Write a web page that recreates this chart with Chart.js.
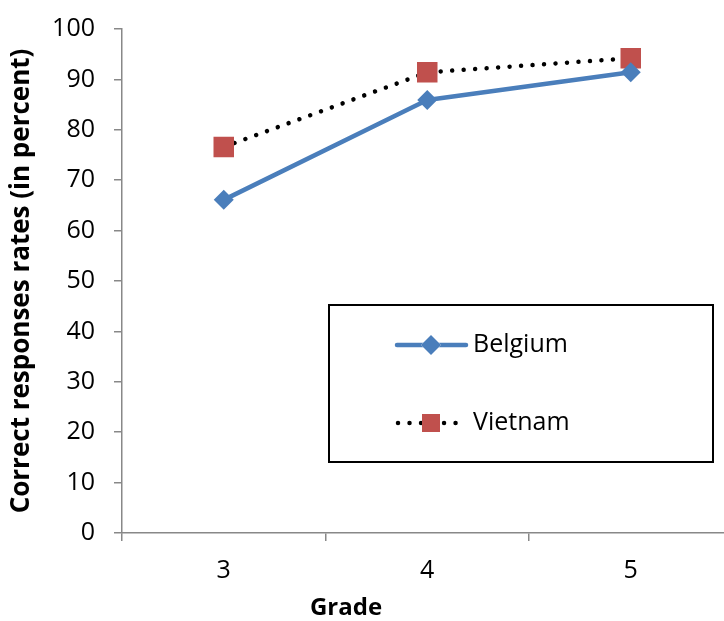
<!DOCTYPE html>
<html>
<head>
<meta charset="utf-8">
<script src="https://cdn.jsdelivr.net/npm/chart.js@4.4.1/dist/chart.umd.min.js"></script>
<style>
  html, body { margin: 0; padding: 0; background: #fff; overflow: hidden; }
  #wrap { position: relative; width: 747px; height: 621px; }
</style>
</head>
<body>
<div id="wrap"><canvas id="c"></canvas></div>
<script>
const grades = ['3', '4', '5'];
const belgium = [66.1, 85.9, 91.4];
const vietnam = [76.6, 91.4, 94.2];
const yTitle = 'Correct responses rates (in percent)';
const xTitle = 'Grade';

const FONT = "'Open Sans', 'Noto Sans', sans-serif";
const BLUE = '#4A7EBB';
const RED = '#C0504D';

const legendBox = {
  id: 'legendBox',
  afterDraw(chart) {
    const ctx = chart.ctx;
    ctx.save();
    // x-axis title (Grade), placed as in the reference
    ctx.fillStyle = '#000';
    ctx.font = 'bold 24px ' + FONT;
    ctx.textAlign = 'center';
    ctx.textBaseline = 'middle';
    ctx.fillText(xTitle, 346, 608);

    const x0 = 329, y0 = 305, x1 = 713, y1 = 462;
    ctx.lineWidth = 2;
    ctx.strokeStyle = '#000';
    ctx.fillStyle = '#fff';
    ctx.fillRect(x0, y0, x1 - x0, y1 - y0);
    ctx.strokeRect(x0, y0, x1 - x0, y1 - y0);
    const ds = chart.data.datasets;
    let y = 345;
    ctx.strokeStyle = ds[0].borderColor;
    ctx.lineWidth = ds[0].borderWidth;
    ctx.lineCap = 'round';
    ctx.beginPath(); ctx.moveTo(397, y); ctx.lineTo(466, y); ctx.stroke();
    Chart.helpers.drawPoint(ctx, {pointStyle: 'rectRot', radius: ds[0].pointRadius, borderWidth: 0}, 431, y);
    ctx.fillStyle = ds[0].pointBackgroundColor;
    ctx.fill();
    y = 423;
    ctx.strokeStyle = ds[1].borderColor;
    ctx.lineWidth = ds[1].borderWidth;
    ctx.setLineDash(ds[1].borderDash);
    ctx.beginPath(); ctx.moveTo(398, y); ctx.lineTo(466, y); ctx.stroke();
    ctx.setLineDash([]);
    ctx.fillStyle = ds[1].pointBackgroundColor;
    ctx.fillRect(422, y - 9, 18, 18);
    ctx.fillStyle = '#000';
    ctx.font = '25px ' + FONT;
    ctx.textBaseline = 'middle';
    ctx.textAlign = 'left';
    ctx.fillText(ds[0].label, 473, 345);
    ctx.fillText(ds[1].label, 473, 423);
    ctx.restore();
  }
};

new Chart(document.getElementById('c'), {
  type: 'line',
  data: {
    labels: grades,
    datasets: [
      {
        label: 'Belgium', data: belgium,
        borderColor: BLUE, borderWidth: 4.5,
        pointStyle: 'rectRot', pointRadius: 10,
        pointBackgroundColor: BLUE, pointBorderWidth: 0,
        borderCapStyle: 'round', borderJoinStyle: 'round', tension: 0
      },
      {
        label: 'Vietnam', data: vietnam,
        borderColor: '#000', borderWidth: 4.5,
        borderDash: [0.01, 11.5], borderCapStyle: 'round',
        pointStyle: 'rect', pointRadius: 14.5,
        pointBackgroundColor: RED, pointBorderWidth: 0, tension: 0
      }
    ]
  },
  options: {
    responsive: true,
    maintainAspectRatio: false,
    animation: false,
    events: [],
    layout: { padding: { left: 6, right: 5, top: 29, bottom: 0 } },
    plugins: { legend: { display: false }, tooltip: { enabled: false } },
    scales: {
      x: {
        offset: true,
        afterFit(scale) { scale.height = 88; scale.paddingLeft = 0; scale.paddingRight = 0; },
        grid: { offset: true, drawOnChartArea: false, drawTicks: true, tickLength: 8, color: '#888', lineWidth: 1.5 },
        border: { display: true, color: '#888', width: 1.5 },
        ticks: { color: '#000', font: { family: FONT, size: 25 }, padding: 15 },
        title: { display: false }
      },
      y: {
        min: 0, max: 100,
        afterFit(scale) { scale.width = 116; scale.paddingTop = 0; scale.paddingBottom = 0; },
        grid: { drawOnChartArea: false, drawTicks: true, tickLength: 8, color: '#888', lineWidth: 1.5 },
        border: { display: true, color: '#888', width: 1.5 },
        ticks: { stepSize: 10, color: '#000', font: { family: FONT, size: 25 }, padding: 19 },
        title: { display: true, text: yTitle, color: '#000', font: { family: FONT, size: 26, weight: 'bold' }, padding: { top: 0, bottom: 0 } }
      }
    }
  },
  plugins: [legendBox]
});
</script>
</body>
</html>
